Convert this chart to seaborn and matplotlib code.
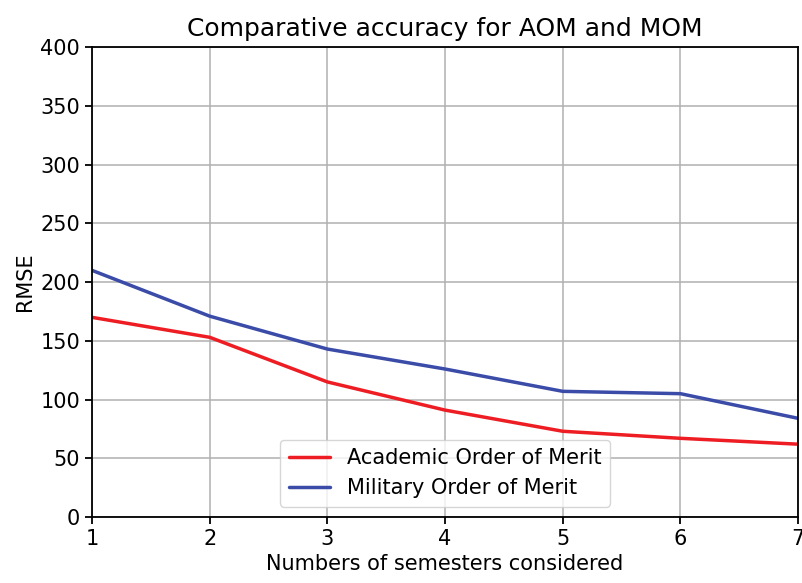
import matplotlib
matplotlib.use("Agg")
import matplotlib.pyplot as plt
import seaborn as sns
import pandas as pd

semesters = [1, 2, 3, 4, 5, 6, 7]
aom_rmse = [170, 153, 115, 91, 73, 67, 62]
mom_rmse = [210, 171, 143, 126, 107, 105, 84]
series_names = ["Academic Order of Merit", "Military Order of Merit"]
colors = ["#ee1d23", "#3a4ba8"]

df = pd.DataFrame({
    "x": semesters * 2,
    "y": aom_rmse + mom_rmse,
    "series": [series_names[0]] * len(semesters) + [series_names[1]] * len(semesters),
})

sns.set_style("ticks")
plt.rcParams["font.family"] = ["DejaVu Sans"]
plt.rcParams["text.color"] = "black"
plt.rcParams["axes.labelcolor"] = "black"

fig = plt.figure(figsize=(8.03, 5.83), dpi=100)
ax = fig.add_axes([0.1146, 0.1132, 0.8794, 0.8058])

sns.lineplot(data=df, x="x", y="y", hue="series", palette=colors, linewidth=2.5, ax=ax)

ax.set_xlim(1, 7)
ax.set_ylim(0, 400)
ax.set_xticks(semesters)
ax.set_yticks(range(0, 401, 50))
ax.grid(True, color="#b0b0b0", linewidth=1.1)
for s in ax.spines.values():
    s.set_linewidth(1.3)
    s.set_color("black")
ax.tick_params(labelsize=15, width=1.3, length=5, colors="black")
ax.set_xlabel("Numbers of semesters considered", fontsize=15, color="black")
ax.set_ylabel("RMSE", fontsize=15, color="black")
ax.set_title("Comparative accuracy for AOM and MOM", fontsize=18, pad=8, color="black")
leg = ax.legend(loc="lower center", fontsize=15, frameon=True, title=None)
leg.get_frame().set_edgecolor("#cccccc")
for t in leg.get_texts():
    t.set_color("black")

fig.savefig("out.png", dpi=100)
